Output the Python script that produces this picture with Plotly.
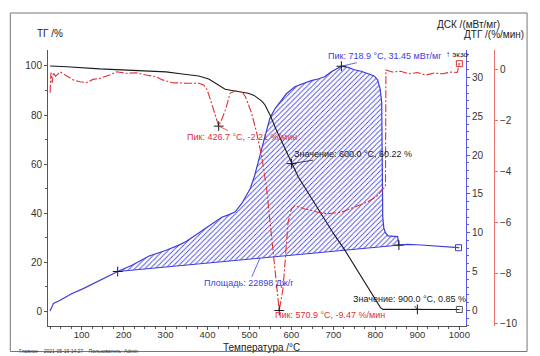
import plotly.graph_objects as go

# ---------------- data ----------------
T_tg = [25, 65, 143, 222, 301, 340, 379, 403, 427, 442, 458, 478, 497, 511, 521, 530, 537,
        549, 564, 584, 600, 616, 650, 700, 726, 760, 790, 812, 818, 860, 900, 950, 1000]
tg = [100.0, 99.7, 98.8, 98.1, 97.6, 96.7, 95.9, 94.7, 92.3, 90.5, 90.0, 89.5, 88.9, 88.0,
      86.8, 85.6, 84.1, 80.0, 73.9, 66.5, 60.22, 54.9, 45.5, 31.8, 25.3, 16.0, 7.8, 1.6,
      0.88, 0.86, 0.85, 0.84, 0.83]

T_dsc = [25, 29, 33, 49, 75, 104, 145, 186, 220, 261, 300, 332, 350, 379, 400, 419, 434,
         450, 466, 482, 494, 502, 512, 521, 530, 537, 549, 561, 576, 588, 608, 623, 647,
         663, 679, 694, 710, 718.9, 735, 750, 766, 781, 797, 805, 811, 815, 816.5, 817.5,
         820, 824, 830, 845, 853, 856, 876, 900, 939, 970, 998]
dsc = [-0.1, 0.3, 0.9, 1.3, 2.1, 2.8, 3.9, 5.0, 5.8, 7.0, 7.7, 8.4, 8.9, 10.0, 10.7, 11.4,
       12.0, 12.3, 12.7, 13.8, 14.9, 15.7, 17.3, 19.3, 21.0, 22.4, 24.8, 26.0, 27.0, 27.9,
       28.8, 29.1, 29.6, 29.8, 30.1, 30.7, 31.2, 31.45, 31.3, 31.0, 30.8, 30.5, 30.2, 29.7,
       28.6, 26.8, 20.0, 12.0, 10.6, 10.0, 9.6, 9.5, 9.5, 8.4, 8.5, 8.45, 8.3, 8.2, 8.07]

T_dtg = [25, 27, 30, 33, 38, 49, 65, 80, 96, 112, 127, 143, 167, 183, 206, 230, 254, 277,
         293, 316, 348, 379, 391, 399, 407, 417, 426.7, 435, 443, 454, 467, 482, 490, 505,
         517, 529, 537, 541, 549, 557, 564, 570.9, 580, 586, 592, 600, 608, 632, 663, 687,
         718, 750, 781, 805, 817, 824, 825, 840, 860, 880, 900, 920, 940, 960, 980, 995, 1000]
dtg = [-0.9, -0.1, -0.5, -0.1, -0.25, -0.07, -0.24, -0.39, -0.46, -0.5, -0.37, -0.33, -0.2,
       -0.07, -0.13, -0.11, -0.2, -0.26, -0.39, -0.5, -0.52, -0.52, -0.59, -0.78, -1.17,
       -1.7, -2.21, -1.9, -1.56, -0.91, -0.83, -0.85, -1.04, -1.69, -2.47, -3.39, -4.17,
       -4.69, -5.99, -7.3, -8.6, -9.47, -8.6, -7.3, -5.99, -5.47, -5.34, -5.47, -5.6, -5.66,
       -5.6, -5.4, -5.2, -4.95, -4.69, -4.6, 0.0, -0.08, -0.05, -0.15, -0.1, -0.2, -0.12,
       -0.15, -0.08, -0.1, 0.25]

# DSC peak-area baseline (start, end)
base_T = [186, 856]
base_dsc = [5.0, 8.4]

# annotated points
tg_mark_T = [600.0, 900.0]
tg_mark = [60.22, 0.85]
dsc_peak_T = [718.9]
dsc_peak = [31.45]
dtg_peak_T = [426.7, 570.9]
dtg_peak = [-2.21, -9.47]
area_T = 525
area_value = 22898

x_ticks = [100, 200, 300, 400, 500, 600, 700, 800, 900, 1000]

# ---------------- geometry helpers ----------------
W, H = 540, 356
ML, MR, MT, MB = 48, 0, 50, 30
PW = W - ML - MR
PH = H - MT - MB


def px(xp):
    return (xp - ML) / PW


def py(yp):
    return (H - MB - yp) / PH


FONT = "Liberation Sans, Arial, sans-serif"
blue = "#3c3cdc"
red = "#e23030"
black = "#1a1a1a"

fig = go.Figure()

# hatched area between baseline and DSC curve
seg_T = [t for t in T_dsc if base_T[0] <= t <= base_T[1]]
seg_v = [v for t, v in zip(T_dsc, dsc) if base_T[0] <= t <= base_T[1]]
fig.add_trace(go.Scatter(x=base_T, y=base_dsc, mode="lines", yaxis="y",
                         line=dict(color=blue, width=1), hoverinfo="skip"))
fig.add_trace(go.Scatter(x=seg_T, y=seg_v, mode="lines", yaxis="y", fill="tonexty",
                         line=dict(width=0, color=blue),
                         fillpattern=dict(shape="/", fgcolor="#4646e0", size=3.6, solidity=0.24,
                                          fillmode="replace"),
                         hoverinfo="skip"))
# DSC curve
fig.add_trace(go.Scatter(x=T_dsc, y=dsc, mode="lines", yaxis="y",
                         line=dict(color=blue, width=1.2)))
fig.add_trace(go.Scatter(x=base_T + dsc_peak_T, y=base_dsc + dsc_peak, mode="markers", yaxis="y",
                         marker=dict(symbol="cross-thin", size=7, line=dict(color=black, width=1))))
fig.add_trace(go.Scatter(x=[T_dsc[-1]], y=[dsc[-1]], mode="markers", yaxis="y",
                         marker=dict(symbol="square-open-dot", size=6, color=blue, line=dict(width=1))))

# TG curve
fig.add_trace(go.Scatter(x=T_tg, y=tg, mode="lines", yaxis="y2",
                         line=dict(color=black, width=1.1)))
fig.add_trace(go.Scatter(x=tg_mark_T, y=tg_mark, mode="markers", yaxis="y2",
                         marker=dict(symbol="cross-thin", size=7, line=dict(color=black, width=1))))
fig.add_trace(go.Scatter(x=[T_tg[-1]], y=[tg[-1]], mode="markers", yaxis="y2",
                         marker=dict(symbol="square-open-dot", size=6, color="#555", line=dict(width=1))))

# DTG curve
fig.add_trace(go.Scatter(x=T_dtg, y=dtg, mode="lines", yaxis="y3",
                         line=dict(color=red, width=1.1, dash="8px,2px,2px,2px")))
fig.add_trace(go.Scatter(x=dtg_peak_T, y=dtg_peak, mode="markers", yaxis="y3",
                         marker=dict(symbol="cross-thin", size=7, line=dict(color=black, width=1))))
fig.add_trace(go.Scatter(x=[T_dtg[-1]], y=[dtg[-1]], mode="markers", yaxis="y3",
                         marker=dict(symbol="square-open-dot", size=6, color=red, line=dict(width=1))))

area_base = base_dsc[0] + (area_T - base_T[0]) / (base_T[1] - base_T[0]) * (base_dsc[1] - base_dsc[0])

ann_font = dict(family=FONT, size=9)
annotations = [
    dict(x=tg_mark_T[0], y=tg_mark[0], xref="x", yref="y2", ax=62, ay=-10,
         text=f"Значение: {tg_mark_T[0]:.1f} °C, {tg_mark[0]:.2f} %",
         font=dict(ann_font, color=black), arrowcolor=black),
    dict(x=tg_mark_T[1], y=tg_mark[1], xref="x", yref="y2", ax=-8, ay=-10,
         text=f"Значение: {tg_mark_T[1]:.1f} °C, {tg_mark[1]:.2f} %",
         font=dict(ann_font, color=black), arrowcolor=black),
    dict(x=dsc_peak_T[0], y=dsc_peak[0], xref="x", yref="y", ax=44, ay=-10,
         text=f"Пик: {dsc_peak_T[0]:.1f} °C, {dsc_peak[0]:.2f} мВт/мг",
         font=dict(ann_font, color=blue), arrowcolor=blue),
    dict(x=area_T, y=area_base, xref="x", yref="y", ax=-11, ay=25,
         text=f"Площадь: {area_value} Дж/г",
         font=dict(ann_font, color=blue), arrowcolor=blue),
    dict(x=dtg_peak_T[0], y=dtg_peak[0], xref="x", yref="y3", ax=23, ay=11,
         text=f"Пик: {dtg_peak_T[0]:.1f} °C, {dtg_peak[0]:.2f} %/мин",
         font=dict(ann_font, color=red), arrowcolor=red),
]
for a in annotations:
    a.update(showarrow=True, arrowhead=0, arrowwidth=0.8)
annotations.append(dict(x=dtg_peak_T[1], y=dtg_peak[1], xref="x", yref="y3", showarrow=False,
                        xanchor="left", yanchor="middle", xshift=-6, yshift=-4,
                        text=f"Пик: {dtg_peak_T[1]:.1f} °C, {dtg_peak[1]:.2f} %/мин",
                        font=dict(ann_font, color=red)))

# static texts
def ptext(x, y, text, size=10, color="#222", anchor="center"):
    return dict(x=px(x), y=py(y), xref="paper", yref="paper", showarrow=False,
                xanchor=anchor, yanchor="middle", text=text,
                font=dict(family=FONT, size=size, color=color))

annotations += [
    ptext(35, 34, "ТГ /%", anchor="left"),
    ptext(472, 24, "ДСК /(мВт/мг)"),
    ptext(498, 35, "ДТГ /(%/мин)"),
    ptext(263, 347.5, "Температура /°C"),
    ptext(447, 55, "↑ экзо", size=8, color=black, anchor="left"),
    ptext(17, 351, "Главное&nbsp;&nbsp;&nbsp;&nbsp;2021-05-19 14:27&nbsp;&nbsp;&nbsp;&nbsp;Пользователь: Admin",
          size=5, color="#333", anchor="left"),
]

axis_common = dict(showgrid=False, zeroline=False, showline=True, linewidth=1,
                   ticks="outside", ticklen=3,
                   tickfont=dict(family=FONT, size=10, color="#333"))

fig.update_layout(
    width=W, height=H, margin=dict(l=ML, r=MR, t=MT, b=MB),
    paper_bgcolor="white", plot_bgcolor="rgba(0,0,0,0)", showlegend=False,
    font=dict(family=FONT, size=10, color="#333"),
    xaxis=dict(axis_common, domain=[0, px(469.5)], range=[20, 1016],
               tickvals=x_ticks, linecolor="#555", tickcolor="#555",
               ticklabelstandoff=-3,
               tickfont=dict(family=FONT, size=9.5, color="#333"),
               minor=dict(dtick=25, tick0=0, ticks="outside", ticklen=2, tickcolor="#555")),
    yaxis=dict(axis_common, side="right", anchor="x", range=[-2.02, 33.54], dtick=5, tick0=0,
               linecolor="#5a5ae6", tickcolor="#5a5ae6",
               minor=dict(dtick=1, ticks="outside", ticklen=2, tickcolor="#5a5ae6")),
    yaxis2=dict(axis_common, side="left", anchor="x", overlaying="y", range=[-5.9, 106.5],
                dtick=20, tick0=0, linecolor="#555", tickcolor="#555",
                minor=dict(dtick=10, ticks="outside", ticklen=2, tickcolor="#555")),
    yaxis3=dict(axis_common, side="right", anchor="free", overlaying="y", position=px(497.7),
                range=[-10.08, 0.787], dtick=2, tick0=0,
                linecolor="#e87070", tickcolor="#e87070"),
    annotations=annotations,
    shapes=[dict(type="rect", xref="paper", yref="paper", x0=px(10), x1=px(531),
                 y0=py(351.5), y1=py(13), line=dict(color="#777", width=1))],
)

fig.write_html("out.html")
